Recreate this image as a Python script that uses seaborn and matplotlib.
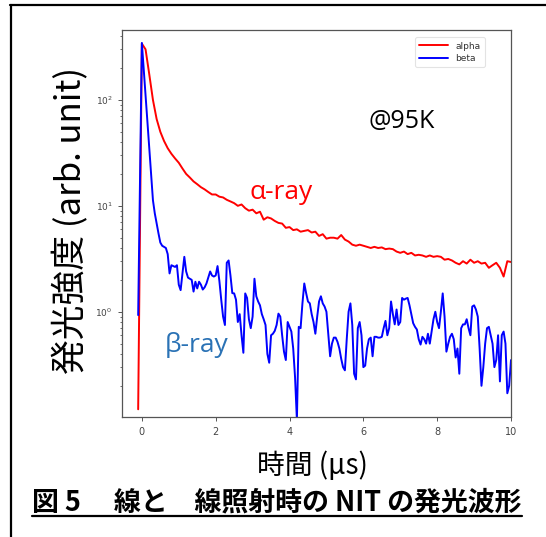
import numpy as np
import pandas as pd
import matplotlib
matplotlib.use("Agg")
import matplotlib.pyplot as plt
from matplotlib.lines import Line2D
import seaborn as sns

# ---------------- data ----------------
alpha_vals = [
    0.12, 340, 300, 175, 100, 66, 50, 41, 35, 31,
    28, 25.5, 22.5, 20, 18.5, 17, 16, 15, 14.3, 13.5,
    12.8, 12.8, 12.2, 12.0, 11.4, 11.0, 10.6, 10.0, 10.3, 9.5,
    9.0, 9.2, 8.5, 8.8, 7.4, 7.8, 7.6, 7.2, 6.9, 6.8,
    6.2, 6.3, 5.9, 6.0, 5.7, 5.8, 5.9, 5.6, 5.7, 5.2,
    5.4, 4.9, 5.0, 5.0, 4.9, 5.3, 4.8, 4.6, 4.3, 4.2,
    4.3, 4.2, 4.1, 4.0, 4.1, 4.0, 4.05, 3.9, 3.95, 3.9,
    3.7, 3.6, 3.7, 3.5, 3.6, 3.4, 3.45, 3.4, 3.3, 3.4,
    3.3, 3.35, 3.3, 3.1, 3.15, 3.05, 2.9, 2.8, 3.0, 2.85,
    3.1, 2.9, 3.0, 2.85, 2.9, 2.6, 2.75, 2.9, 2.6, 2.15,
    3.0, 2.95,
]
alpha_t0, alpha_dt = -0.1, 0.1

beta_vals = [
    0.93, 18, 345, 195, 110, 62, 35, 20, 11.3, 8.5,
    6.8, 5.5, 4.5, 4.2, 4.1, 4.0, 3.5, 2.3, 2.75, 2.7,
    2.65, 2.75, 1.8, 1.6, 2.3, 3.3, 2.4, 2.1, 2.05, 2.0,
    1.55, 1.92, 1.66, 1.92, 1.8, 1.62, 1.7, 1.85, 2.1, 2.4,
    2.2, 2.15, 2.2, 2.7, 1.95, 1.3, 0.9, 0.75, 2.9, 3.05,
    2.2, 1.5, 1.49, 1.3, 0.8, 0.95, 0.6, 0.41, 1.49, 1.35,
    0.85, 0.7, 0.9, 2.05, 1.4, 1.25, 1.15, 0.95, 0.85, 0.75,
    0.4, 0.33, 0.6, 0.62, 0.66, 0.75, 0.96, 0.9, 0.6, 0.42,
    0.35, 0.8, 0.72, 0.65, 0.45, 0.24, 0.095, 0.72, 0.7, 1.2,
    1.85, 1.5, 1.25, 1.2, 0.95, 0.8, 0.62, 0.9, 1.25, 1.4,
    1.2, 1.12, 1.0, 0.62, 0.38, 0.5, 0.57, 0.57, 0.52, 0.45,
    0.36, 0.3, 0.28, 0.55, 1.0, 1.2, 0.75, 0.26, 0.23, 0.7,
    0.8, 0.6, 0.3, 0.31, 0.45, 0.55, 0.57, 0.38, 0.58, 0.58,
    0.57, 0.57, 0.58, 0.7, 0.82, 0.6, 0.7, 1.25, 0.95, 0.76,
    1.05, 0.75, 0.8, 1.35, 1.3, 1.33, 1.35, 1.15, 0.95, 0.78,
    0.72, 0.68, 0.55, 0.49, 0.58, 0.55, 0.5, 0.62, 0.5, 0.65,
    0.85, 1.0, 0.8, 0.7, 1.0, 1.49, 0.9, 0.42, 0.5, 0.58,
    0.62, 0.55, 0.37, 0.45, 0.26, 0.7, 0.76, 0.76, 0.85, 0.7,
    0.6, 1.12, 1.15, 1.05, 0.9, 0.45, 0.2, 0.3, 0.5, 0.7,
    0.72, 0.6, 0.5, 0.3, 0.35, 0.6, 0.22, 0.6, 0.65, 0.5,
    0.17, 0.2, 0.35,
]
beta_t0, beta_dt = -0.1, 0.05

x_ticks = [0, 2, 4, 6, 8, 10]
y_ticks = [1, 10, 100]
y_tick_labels = [r"$10^{0}$", r"$10^{1}$", r"$10^{2}$"]
series_names = ["alpha", "beta"]
series_colors = ["red", "blue"]
caption = "図 5　 線と　線照射時の NIT の発光波形"

alpha_t = np.round(alpha_t0 + alpha_dt * np.arange(len(alpha_vals)), 3)
beta_t = np.round(beta_t0 + beta_dt * np.arange(len(beta_vals)), 3)

df = pd.concat([
    pd.DataFrame({"time": alpha_t, "value": alpha_vals, "series": "alpha"}),
    pd.DataFrame({"time": beta_t, "value": beta_vals, "series": "beta"}),
], ignore_index=True)

# ---------------- style ----------------
sns.set_theme(style="white")
plt.rcParams["font.family"] = ["DejaVu Sans"]
plt.rcParams.update({
    "axes.edgecolor": "#555555",
    "axes.linewidth": 0.9,
    "xtick.color": "#555555",
    "ytick.color": "#555555",
    "xtick.labelcolor": "#444444",
    "ytick.labelcolor": "#444444",
    "xtick.bottom": True,
    "ytick.left": True,
    "xtick.major.size": 3.0,
    "ytick.major.size": 3.0,
    "ytick.minor.size": 1.8,
    "xtick.major.width": 0.7,
    "ytick.major.width": 0.7,
    "ytick.minor.width": 0.6,
})

W, H = 546, 537
fig = plt.figure(figsize=(W / 100, H / 100), dpi=100)
fig.patch.set_facecolor("white")

ax_l, ax_r, ax_t, ax_b = 122.3, 511.0, 30.0, 417.0
ax = fig.add_axes([ax_l / W, 1 - ax_b / H, (ax_r - ax_l) / W, (ax_b - ax_t) / H])

sns.lineplot(data=df, x="time", y="value", hue="series",
             hue_order=series_names, palette=series_colors,
             linewidth=1.4, ax=ax, legend=False, estimator=None, sort=False)

ax.set_yscale("log")
ax.set_xlim(-0.53, 10.0)
ax.set_ylim(0.1015, 457)
ax.set_xticks(x_ticks)
ax.set_xticklabels([str(v) for v in x_ticks], fontsize=7)
ax.set_yticks(y_ticks)
ax.set_yticklabels(y_tick_labels, fontsize=6.5)
ax.tick_params(axis="both", which="major", pad=4)
ax.set_xlabel("")
ax.set_ylabel("")

handles = [Line2D([0], [0], color=c, lw=1.4) for c in series_colors]
leg = ax.legend(handles, series_names, loc="upper right",
                bbox_to_anchor=((485 - ax_l) / (ax_r - ax_l), (ax_b - 37) / (ax_b - ax_t)),
                borderaxespad=0, fontsize=6.5, frameon=True, fancybox=True,
                handlelength=3.2, labelspacing=0.35, borderpad=0.5)
leg.get_frame().set_edgecolor("#dddddd")
leg.get_frame().set_linewidth(0.8)
for t in leg.get_texts():
    t.set_color("#333333")

def fx(px):
    return px / W

def fy(py):
    return 1 - py / H

cjk = ["Noto Sans CJK JP", "DejaVu Sans"]
latin = ["Open Sans", "DejaVu Sans"]

fig.text(fx(71), fy(220), "発光強度 (arb. unit)", rotation=90, ha="center", va="center",
         fontsize=25, family=cjk, color="black")
fig.text(fx(312), fy(466), "時間 (μs)", ha="center", va="center",
         fontsize=20, family=cjk, color="black")
fig.text(fx(402), fy(121), "@95K", ha="center", va="center",
         fontsize=18, family=latin, color="black")
fig.text(fx(281), fy(192), "α-ray", ha="center", va="center",
         fontsize=19, family=latin, color="red")
fig.text(fx(197), fy(345), "β-ray", ha="center", va="center",
         fontsize=19, family=latin, color="#2a72b5")

# caption (glyphs for the Greek letters are missing in the source, leaving gaps)
cap = fig.text(fx(32), fy(502), caption, ha="left", va="center", fontsize=15.5,
               family=cjk, fontweight="bold", color="black")
fig.canvas.draw()
bb = cap.get_window_extent(renderer=fig.canvas.get_renderer())
cap.set_fontsize(15.5 * (522 - 32) / bb.width)
fig.add_artist(Line2D([fx(32), fx(522)], [fy(516), fy(516)], color="black", lw=1.6))

# outer frame (top and left rules)
fig.add_artist(Line2D([fx(10), 1.0], [fy(5), fy(5)], color="black", lw=1.6))
fig.add_artist(Line2D([fx(11), fx(11)], [fy(5), 0.0], color="black", lw=1.6))

fig.savefig("out.png", dpi=100, facecolor="white")
